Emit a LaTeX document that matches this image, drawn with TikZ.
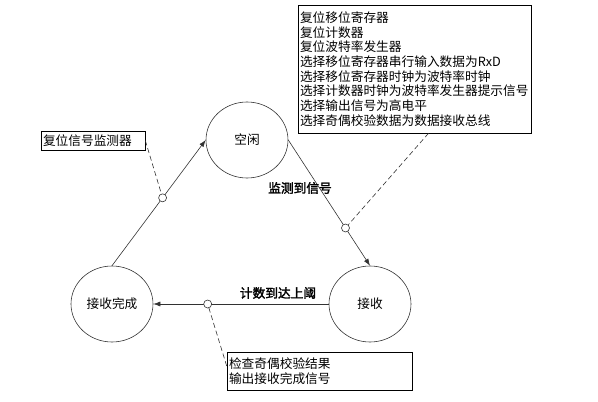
\documentclass[tikz,border=0pt]{standalone}
\usepackage{fontspec}
\setmainfont{Noto Sans CJK SC}
\newfontfamily\cjkbold[FakeBold=2]{Noto Sans CJK SC}
\usetikzlibrary{arrows.meta,shapes.geometric}
\definecolor{stategray}{RGB}{50,50,50}

\begin{document}
\begin{tikzpicture}[x=1pt,y=-1pt,
    every node/.style={font=\fontsize{12.7}{14.7}\selectfont},
    state/.style={ellipse,draw=stategray,line width=0.6pt,minimum width=82pt,minimum height=76pt,inner sep=0pt},
    dot/.style={circle,draw=stategray,fill=white,line width=0.6pt,minimum size=8pt,inner sep=0pt},
    flow/.style={stategray,line width=0.6pt,-{Latex[length=7pt,width=5pt]}},
    note/.style={stategray,line width=0.6pt,dash pattern=on 5pt off 3pt},
    notebox/.style={draw,line width=0.6pt,align=left,inner sep=2pt},
    edgelabel/.style={font=\fontsize{12.7}{14.7}\cjkbold}]
        \useasboundingbox (0,0) rectangle (598,402);
        % states
        \node[state] (idle) at (247,140) {空闲};
        \node[state] (recv) at (370,304) {接收};
        \node[state] (done) at (112,304) {接收完成};
        % transitions
        \draw[flow] (done.north) -- node[dot,pos=0.54] (d1) {} (idle.west);
        \draw[flow] (idle.east) -- node[dot,pos=0.7] (d2) {} (recv.north);
        \draw[flow] (recv.west) -- node[dot,pos=0.69] (d3) {} (done.east);
        \node[edgelabel] (sensed) at (300,188) {监测到信号};
        \node[edgelabel] (limit) at (278,293) {计数到达上阈};
        % actions
        \node[notebox,text width=100pt,minimum height=19pt] (reset) at (93,140.5) {复位信号监测器};
        \node[notebox,text width=229pt,minimum height=128pt] (actions) at (414.5,69) {复位移位寄存器\\复位计数器\\复位波特率发生器\\选择移位寄存器串行输入数据为RxD\\选择移位寄存器时钟为波特率时钟\\选择计数器时钟为波特率发生器提示信号\\选择输出信号为高电平\\选择奇偶校验数据为数据接收总线};
        \node[notebox,text width=181pt,minimum height=38pt] (check) at (319.5,371) {检查奇偶校验结果\\输出接收完成信号};
        \draw[note] (reset.east) -- (d1);
        \draw[note] ([xshift=14pt]actions.south) -- (d2);
        \draw[note] ([yshift=5pt]check.west) -- (d3);
      \end{tikzpicture}
\end{document}
